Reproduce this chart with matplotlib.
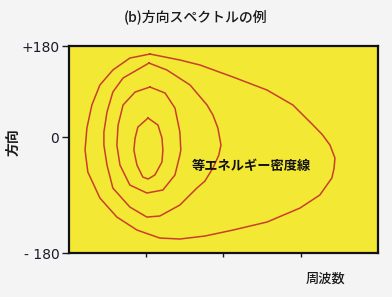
import numpy as np
import matplotlib.pyplot as plt

plt.rcParams['font.family'] = ['Noto Sans CJK JP', 'DejaVu Sans']

# contour lines of equal energy density: frequency (fraction of axis) and direction (deg)
outer_f = [0.262, 0.359, 0.424, 0.531, 0.641, 0.725, 0.790, 0.820, 0.845, 0.861, 0.858, 0.851,
           0.812, 0.748, 0.641, 0.531, 0.440, 0.359, 0.294, 0.220, 0.155, 0.100, 0.061,
           0.052, 0.058, 0.074, 0.100, 0.142, 0.197, 0.262]
outer_d = [166.1, 155.7, 147.0, 126.1, 103.5, 77.4, 42.6, 26.0, 7.8, -14.8, -33.0, -49.5,
           -79.1, -101.7, -126.1, -140.0, -150.4, -155.6, -153.9, -140.0, -117.4, -84.3, -39.1,
           -0.9, 37.4, 77.4, 112.2, 138.3, 159.1, 166.1]

second_f = [0.259, 0.317, 0.392, 0.447, 0.466, 0.482, 0.492, 0.485, 0.466, 0.440, 0.414,
            0.359, 0.294, 0.252, 0.197, 0.142, 0.123, 0.113, 0.113, 0.123, 0.142, 0.175,
            0.220, 0.259]
second_d = [150.4, 138.3, 112.2, 77.4, 60.0, 37.4, 7.8, -9.6, -32.2, -54.8, -67.0,
            -96.5, -115.6, -117.4, -100.0, -67.0, -27.0, 7.8, 30.4, 65.2, 100.0, 124.4,
            138.3, 150.4]

third_f = [0.262, 0.311, 0.343, 0.359, 0.362, 0.359, 0.343, 0.304, 0.252, 0.197, 0.165,
           0.155, 0.159, 0.175, 0.214, 0.262]
third_d = [108.7, 98.3, 72.2, 30.4, -0.9, -9.6, -44.3, -70.4, -75.6, -61.7, -27.0,
           7.8, 42.6, 77.4, 100.0, 108.7]

inner_f = [0.256, 0.288, 0.301, 0.304, 0.301, 0.278, 0.256, 0.239, 0.220, 0.210, 0.214,
           0.223, 0.256]
inner_d = [54.8, 42.6, 20.0, -0.9, -21.7, -44.3, -51.3, -47.8, -27.0, -0.9, 20.0,
           39.1, 54.8]

x_ticks = [0.25, 0.5, 0.75]
y_ticks = [-180, 21, 180]
y_labels = ['- 180', '0', '+180']

fig = plt.figure(figsize=(3.92, 2.97), dpi=100, facecolor='#f4f4f5')
ax = fig.add_axes([0.176, 0.148, 0.788, 0.697])
ax.set_facecolor('#f3e834')

for f, d in [(outer_f, outer_d), (second_f, second_d), (third_f, third_d), (inner_f, inner_d)]:
    ax.plot(f, d, color='#c8402a', lw=1.1, solid_joinstyle='round')

ax.set_xlim(0, 1)
ax.set_ylim(-180, 180)
ax.set_xticks(x_ticks)
ax.set_xticklabels([])
ax.set_yticks(y_ticks)
ax.set_yticklabels(y_labels, fontsize=10, family='DejaVu Sans')
ax.tick_params(axis='y', length=5, width=1, pad=2, colors='#1a1a2a')
ax.tick_params(axis='x', length=3, width=1, colors='#1a1a2a')
for s in ax.spines.values():
    s.set_linewidth(1.6)
    s.set_color('#111111')

ax.text(0.59, -28, '等エネルギー密度線', fontsize=9.5, ha='center', va='center',
        color='#111111', fontweight='bold')

fig.text(0.5, 0.945, '(b)方向スペクトルの例', fontsize=10, ha='center', va='center',
         color='#1a1a1a', fontweight='medium')
fig.text(0.83, 0.063, '周波数', fontsize=9.5, ha='center', va='center', color='#1a1a1a',
         fontweight='medium')
fig.text(0.034, 0.522, '方向', fontsize=10, ha='center', va='center', rotation=90,
         color='#1a1a1a', fontweight='bold')

fig.savefig('out.png', dpi=100, facecolor=fig.get_facecolor())
